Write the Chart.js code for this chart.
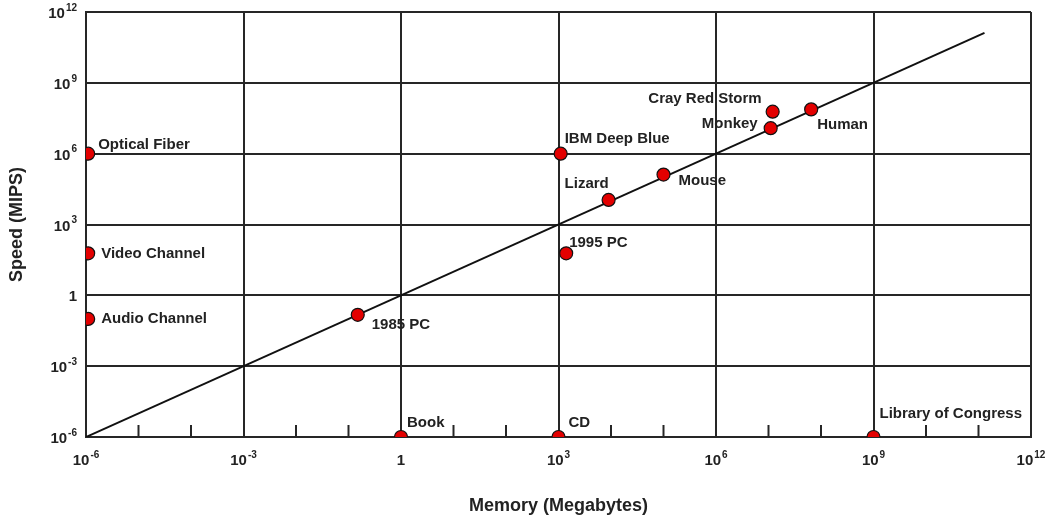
<!DOCTYPE html>
<html lang="en">
<head>
<meta charset="UTF-8">
<title>Memory vs Speed</title>
<script src="https://cdn.jsdelivr.net/npm/chart.js"></script>
<style>
body {
    margin: 0;
    background-color: #ffffff;
}
.chartBox {
    position: relative;
    width: 1058px;
    height: 521px;
}
</style>
</head>
<body>
<div class="chartBox">
    <canvas id="memChart"></canvas>
</div>
<script>
// data (memory in MB, speed in MIPS)
const pointNames = ['Optical Fiber', 'Video Channel', 'Audio Channel', '1985 PC', 'Book', 'CD',
    'Library of Congress', 'IBM Deep Blue', '1995 PC', 'Lizard', 'Mouse', 'Monkey', 'Cray Red Storm', 'Human'];
const memoryMB = [1.1e-6, 1.1e-6, 1.1e-6, 0.15, 1, 1e3, 1e9, 1.1e3, 1.4e3, 9e3, 1e5, 1.1e7, 1.2e7, 6.5e7];
const speedMIPS = [1e6, 60, 0.1, 0.15, 1e-6, 1e-6, 1e-6, 1e6, 60, 1.1e4, 1.3e5, 1.2e7, 6e7, 7.5e7];

const trendMemory = [1e-6, 1.3e11];
const trendSpeed = [1e-6, 1.3e11];

// same ticks on both axes, written as base + exponent
const axisTicks = [1e-6, 1e-3, 1, 1e3, 1e6, 1e9, 1e12];
const axisTickLabels = [['10', '-6'], ['10', '-3'], ['1', ''], ['10', '3'], ['10', '6'], ['10', '9'], ['10', '12']];
const minorMemoryTicks = [1e-5, 1e-4, 1e-2, 1e-1, 10, 100, 1e4, 1e5, 1e7, 1e8, 1e10, 1e11];

// where each name sits next to its dot: [dx, dy, align]
const labelPlacement = [
    [10, -9, 'left'], [13, 1, 'left'], [13, 0, 'left'], [14, 10, 'left'],
    [6, -14, 'left'], [10, -14, 'left'], [6, -23, 'left'], [4, -15, 'left'],
    [3, -10, 'left'], [-44, -16, 'left'], [15, 6, 'left'], [-13, -4, 'right'],
    [-11, -13, 'right'], [6, 15, 'left']
];

const fontFamily = '"Liberation Sans", Arial, sans-serif';
const lineColor = '#262626';

const pointLabels = {
    id: 'pointLabels',
    afterDatasetsDraw(chart) {
        const ctx = chart.ctx;
        const meta = chart.getDatasetMeta(1);
        ctx.save();
        ctx.font = 'bold 15px ' + fontFamily;
        ctx.fillStyle = '#222';
        ctx.textBaseline = 'middle';
        meta.data.forEach((pt, i) => {
            const p = labelPlacement[i];
            ctx.textAlign = p[2];
            ctx.fillText(pointNames[i], pt.x + p[0], pt.y + p[1]);
        });
        ctx.restore();
    }
};

const minorTicks = {
    id: 'minorTicks',
    beforeDatasetsDraw(chart) {
        const ctx = chart.ctx;
        const x = chart.scales.x;
        const bottom = chart.chartArea.bottom;
        ctx.save();
        ctx.strokeStyle = lineColor;
        ctx.lineWidth = 2;
        minorMemoryTicks.forEach(v => {
            const px = x.getPixelForValue(v);
            ctx.beginPath();
            ctx.moveTo(px, bottom);
            ctx.lineTo(px, bottom - 12);
            ctx.stroke();
        });
        ctx.restore();
    }
};

// tick labels with a raised exponent
function drawPower(ctx, parts, x, y, align) {
    ctx.font = 'bold 15px ' + fontFamily;
    const wb = ctx.measureText(parts[0]).width;
    ctx.font = 'bold 10px ' + fontFamily;
    const we = parts[1] ? ctx.measureText(parts[1]).width + 1 : 0;
    const w = wb + we;
    let start = align === 'right' ? x - w : x - w / 2;
    ctx.textAlign = 'left';
    ctx.textBaseline = 'middle';
    ctx.font = 'bold 15px ' + fontFamily;
    ctx.fillText(parts[0], start, y);
    if (parts[1]) {
        ctx.font = 'bold 10px ' + fontFamily;
        ctx.fillText(parts[1], start + wb + 1, y - 6);
    }
}

const powerTicks = {
    id: 'powerTicks',
    afterDraw(chart) {
        const ctx = chart.ctx;
        const area = chart.chartArea;
        ctx.save();
        ctx.fillStyle = '#222';
        axisTicks.forEach((v, i) => {
            drawPower(ctx, axisTickLabels[i], chart.scales.x.getPixelForValue(v), area.bottom + 24, 'center');
            drawPower(ctx, axisTickLabels[i], area.left - 9, chart.scales.y.getPixelForValue(v) + 2, 'right');
        });
        ctx.restore();
    }
};

function logAxis(titleText, titlePadding, fitFn) {
    return {
        type: 'logarithmic',
        min: 1e-6,
        max: 1e12,
        afterBuildTicks: scale => {
            scale.ticks = axisTicks.map(v => ({ value: v }));
        },
        afterFit: fitFn,
        grid: {
            color: lineColor,
            lineWidth: 2,
            drawTicks: false
        },
        border: {
            color: lineColor,
            width: 2
        },
        ticks: {
            display: false
        },
        title: {
            display: true,
            text: titleText,
            color: '#222',
            padding: titlePadding,
            font: { family: fontFamily, size: 18, weight: 'bold' }
        }
    };
}

const ctx = document.getElementById('memChart').getContext('2d');
new Chart(ctx, {
    type: 'scatter',
    data: {
        datasets: [{
            type: 'line',
            label: 'trend',
            data: trendMemory.map((m, i) => ({ x: m, y: trendSpeed[i] })),
            borderColor: '#111',
            borderWidth: 2,
            pointRadius: 0,
            fill: false,
            order: 2
        }, {
            label: 'systems',
            data: memoryMB.map((m, i) => ({ x: m, y: speedMIPS[i] })),
            backgroundColor: '#e30000',
            borderColor: '#111',
            borderWidth: 1.2,
            pointRadius: 6.5,
            order: 1
        }]
    },
    options: {
        responsive: true,
        maintainAspectRatio: false,
        animation: false,
        layout: {
            padding: { top: 12, right: 27, left: 0, bottom: 0 }
        },
        plugins: {
            legend: { display: false },
            tooltip: { enabled: false }
        },
        scales: {
            x: logAxis('Memory (Megabytes)', { top: 0, bottom: 4 }, s => { s.height = 84; }),
            y: logAxis('Speed (MIPS)', { top: 6, bottom: 0 }, s => { s.width = 86; })
        }
    },
    plugins: [minorTicks, pointLabels, powerTicks]
});
</script>
</body>
</html>
